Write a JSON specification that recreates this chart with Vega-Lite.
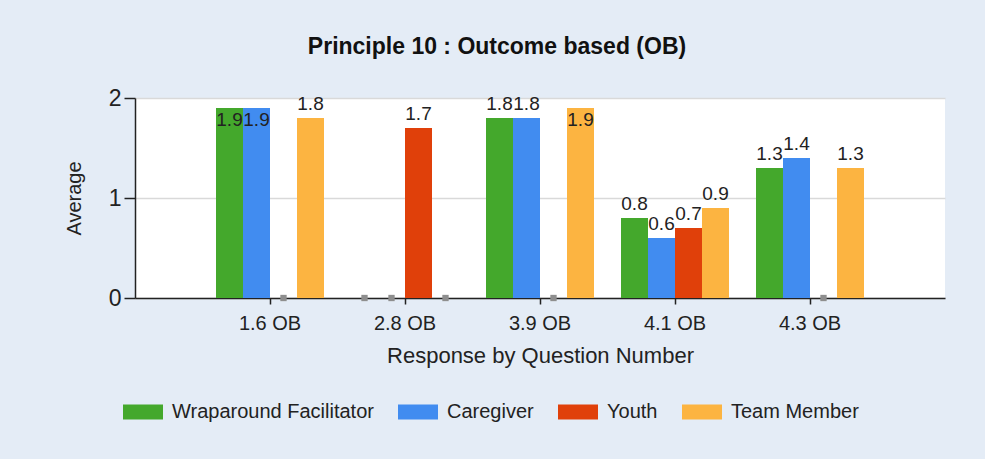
{
  "$schema": "https://vega.github.io/schema/vega-lite/v6.json",
  "width": 810,
  "height": 200,
  "autosize": {"type": "none"},
  "padding": {"left": 135, "top": 98, "right": 40, "bottom": 161},
  "background": "#E4ECF6",
  "title": {
    "text": "Principle 10 : Outcome based (OB)",
    "font": "Liberation Sans",
    "fontSize": 23,
    "fontWeight": "bold",
    "color": "#111111",
    "anchor": "middle",
    "dx": -43,
    "offset": 28
  },
  "data": {
    "values": [
      {"question": "1.6 OB", "group": "Wraparound Facilitator", "value": 1.9},
      {"question": "1.6 OB", "group": "Caregiver", "value": 1.9},
      {"question": "1.6 OB", "group": "Youth", "value": null},
      {"question": "1.6 OB", "group": "Team Member", "value": 1.8},
      {"question": "2.8 OB", "group": "Wraparound Facilitator", "value": null},
      {"question": "2.8 OB", "group": "Caregiver", "value": null},
      {"question": "2.8 OB", "group": "Youth", "value": 1.7},
      {"question": "2.8 OB", "group": "Team Member", "value": null},
      {"question": "3.9 OB", "group": "Wraparound Facilitator", "value": 1.8},
      {"question": "3.9 OB", "group": "Caregiver", "value": 1.8},
      {"question": "3.9 OB", "group": "Youth", "value": null},
      {"question": "3.9 OB", "group": "Team Member", "value": 1.9},
      {"question": "4.1 OB", "group": "Wraparound Facilitator", "value": 0.8},
      {"question": "4.1 OB", "group": "Caregiver", "value": 0.6},
      {"question": "4.1 OB", "group": "Youth", "value": 0.7},
      {"question": "4.1 OB", "group": "Team Member", "value": 0.9},
      {"question": "4.3 OB", "group": "Wraparound Facilitator", "value": 1.3},
      {"question": "4.3 OB", "group": "Caregiver", "value": 1.4},
      {"question": "4.3 OB", "group": "Youth", "value": null},
      {"question": "4.3 OB", "group": "Team Member", "value": 1.3}
    ]
  },
  "encoding": {
    "x": {
      "field": "question",
      "type": "nominal",
      "sort": ["1.6 OB", "2.8 OB", "3.9 OB", "4.1 OB", "4.3 OB"],
      "scale": {"paddingInner": 0.2, "paddingOuter": 0.6},
      "title": "Response by Question Number",
      "axis": {
        "labelAngle": 0,
        "labelFont": "Liberation Sans",
        "labelFontSize": 20,
        "labelColor": "#222222",
        "labelPadding": 9,
        "tickSize": 6,
        "tickColor": "#222222",
        "tickWidth": 1.5,
        "domainColor": "#222222",
        "domainWidth": 1.5,
        "titleFont": "Liberation Sans",
        "titleFontSize": 22,
        "titleFontWeight": "normal",
        "titleColor": "#222222",
        "titlePadding": 12
      }
    },
    "xOffset": {
      "field": "group",
      "type": "nominal",
      "scale": {
        "domain": ["Wraparound Facilitator", "Caregiver", "Youth", "Team Member"],
        "paddingInner": 0,
        "paddingOuter": 0
      }
    }
  },
  "layer": [
    {
      "mark": {"type": "bar"},
      "encoding": {
        "y": {
          "field": "value",
          "type": "quantitative",
          "scale": {"domain": [0, 2], "nice": false},
          "title": "Average",
          "axis": {
            "tickCount": 2,
            "labelOverlap": false,
            "labelFlush": false,
            "labelFont": "Liberation Sans",
            "labelFontSize": 23,
            "labelColor": "#222222",
            "labelPadding": 3,
            "tickSize": 11,
            "tickColor": "#222222",
            "tickWidth": 1.5,
            "domainColor": "#222222",
            "domainWidth": 1.5,
            "grid": true,
            "gridColor": "#D9D9D9",
            "gridWidth": 1.5,
            "titleFont": "Liberation Sans",
            "titleFontSize": 20,
            "titleFontWeight": "normal",
            "titleColor": "#222222",
            "titlePadding": 24
          }
        },
        "color": {
          "field": "group",
          "type": "nominal",
          "scale": {
            "domain": ["Wraparound Facilitator", "Caregiver", "Youth", "Team Member"],
            "range": ["#44A82C", "#418CF0", "#E0400A", "#FCB441"]
          },
          "legend": {
            "title": null,
            "orient": "none",
            "direction": "horizontal",
            "columns": 4,
            "legendX": -12,
            "legendY": 294,
            "symbolType": "M-1,-0.375H1V0.375H-1Z",
            "symbolSize": 1600,
            "symbolStrokeWidth": 0,
            "labelFont": "Liberation Sans",
            "labelFontSize": 20,
            "labelColor": "#222222",
            "labelOffset": 9,
            "columnPadding": 24,
            "labelLimit": 400
          }
        }
      }
    },
    {
      "transform": [{"filter": "datum.value == null"}],
      "mark": {"type": "point", "shape": "square", "filled": true, "size": 40, "color": "#8E8E8E", "opacity": 1},
      "encoding": {
        "y": {
          "datum": 0,
          "type": "quantitative",
          "title": "Average"
        }
      }
    },
    {
      "transform": [{"filter": "datum.value != null && datum.value < 1.85"}],
      "mark": {"type": "text", "baseline": "bottom", "dy": -4, "font": "Liberation Sans", "fontSize": 19, "color": "#222222"},
      "encoding": {
        "y": {"field": "value", "type": "quantitative", "title": "Average"},
        "text": {"field": "value", "type": "quantitative", "format": ".1f"}
      }
    },
    {
      "transform": [{"filter": "datum.value != null && datum.value >= 1.85"}],
      "mark": {"type": "text", "baseline": "top", "dy": 3, "font": "Liberation Sans", "fontSize": 19, "color": "#222222"},
      "encoding": {
        "y": {"field": "value", "type": "quantitative", "title": "Average"},
        "text": {"field": "value", "type": "quantitative", "format": ".1f"}
      }
    }
  ],
  "config": {
    "view": {"fill": "#FFFFFF", "stroke": null}
  }
}
